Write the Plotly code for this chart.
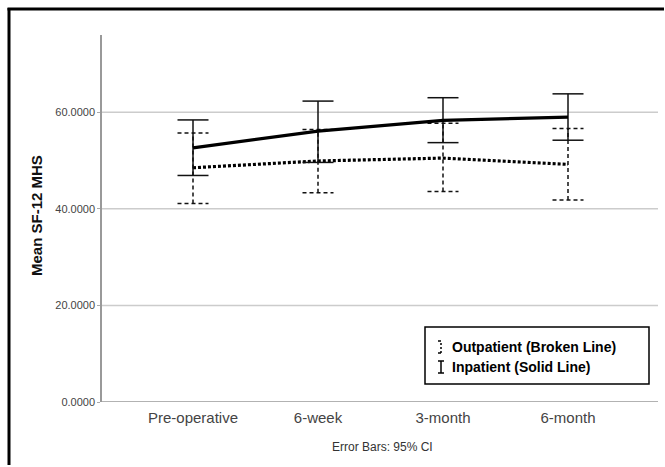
import plotly.graph_objects as go

# Time points and group summaries (mean with 95% CI)
categories = ["Pre-operative", "6-week", "3-month", "6-month"]
inpatient_mean = [52.6, 56.1, 58.3, 59.0]
inpatient_lower = [46.9, 49.6, 53.7, 54.2]
inpatient_upper = [58.4, 62.3, 63.0, 63.8]
outpatient_mean = [48.5, 49.9, 50.5, 49.2]
outpatient_lower = [41.1, 43.3, 43.6, 41.8]
outpatient_upper = [55.7, 56.4, 57.7, 56.6]
y_ticks = [0, 20, 40, 60]

W, H = 665, 467
L, R, T, B = 102, 0, 35, 65
PW, PH = W - L - R, H - T - B
AXIS_END = 658          # right end of the drawn axis frame, in pixels
UNIT = 125.0            # pixels per category step
FONT = "Liberation Sans, Arial, sans-serif"
CAP = 0.124  # half-width of error-bar caps in category units
x_idx = list(range(len(categories)))
x_lo = -0.728
x_hi = x_lo + PW / UNIT


def px(x):
    return (x - L) / PW


def py(y):
    return (H - B - y) / PH


def ci_path(lower, upper):
    xs, ys = [], []
    for i, lo, hi in zip(x_idx, lower, upper):
        xs += [i, i, None, i - CAP, i + CAP, None, i - CAP, i + CAP, None]
        ys += [lo, hi, None, hi, hi, None, lo, lo, None]
    return xs, ys


def seg(x0, y0, x1, y1, width=1.5, dash=None, color="#000"):
    line = dict(color=color, width=width)
    if dash:
        line["dash"] = dash
    return dict(type="line", xref="paper", yref="paper",
                x0=px(x0), x1=px(x1), y0=py(y0), y1=py(y1), line=line)


fig = go.Figure()

ox, oy = ci_path(outpatient_lower, outpatient_upper)
fig.add_trace(go.Scatter(x=ox, y=oy, mode="lines", hoverinfo="skip",
                         line=dict(color="#111", width=1.5, dash="4px,3px")))
fig.add_trace(go.Scatter(x=x_idx, y=outpatient_mean, mode="lines",
                         name="Outpatient (Broken Line)",
                         line=dict(color="#000", width=3.2, dash="3px,2px")))

ix, iy = ci_path(inpatient_lower, inpatient_upper)
fig.add_trace(go.Scatter(x=ix, y=iy, mode="lines", hoverinfo="skip",
                         line=dict(color="#111", width=1.5)))
fig.add_trace(go.Scatter(x=x_idx, y=inpatient_mean, mode="lines",
                         name="Inpatient (Solid Line)",
                         line=dict(color="#000", width=3.2)))

# horizontal gridlines and baseline stop at the axis frame end
grid = [dict(type="line", xref="paper", yref="y", x0=0, x1=px(AXIS_END),
             y0=v, y1=v, layer="below",
             line=dict(color="#999" if v == 0 else "#cccccc", width=1.5))
        for v in y_ticks]

shapes = grid + [
    # outer frame (left and top edges)
    seg(9, 465, 9, 8, width=3),
    seg(7.5, 9, 664, 9, width=3),
    # legend box
    dict(type="rect", xref="paper", yref="paper",
         x0=px(425), x1=px(649), y0=py(384), y1=py(327),
         line=dict(color="#000", width=1.5), fillcolor="white"),
    # legend glyph: inpatient
    seg(441, 373, 441, 361),
    seg(438, 361, 444, 361),
    seg(438, 373, 444, 373),
    # legend glyph: outpatient
    seg(441, 353, 441, 341, dash="2px,2px"),
    seg(438, 341, 441, 341),
    seg(438, 353, 441, 353),
]

annotations = [
    dict(text="<b>Outpatient (Broken Line)</b>", xref="paper", yref="paper",
         x=px(450), y=py(347), xanchor="left", yanchor="middle", showarrow=False,
         font=dict(family=FONT, size=14, color="#000")),
    dict(text="<b>Inpatient (Solid Line)</b>", xref="paper", yref="paper",
         x=px(450), y=py(367), xanchor="left", yanchor="middle", showarrow=False,
         font=dict(family=FONT, size=14, color="#000")),
    dict(text="<b>Mean SF-12 MHS</b>", xref="paper", yref="paper",
         x=px(37), y=py(216), xanchor="center", yanchor="middle", textangle=-90,
         showarrow=False, font=dict(family=FONT, size=15, color="#111")),
    dict(text="Error Bars: 95% CI", xref="paper", yref="paper",
         x=px(382), y=py(447), xanchor="center", yanchor="middle",
         showarrow=False, font=dict(family=FONT, size=12, color="#333")),
]

fig.update_layout(
    width=W, height=H,
    margin=dict(l=L, r=R, t=T, b=B, pad=0),
    paper_bgcolor="white", plot_bgcolor="white",
    showlegend=False,
    shapes=shapes, annotations=annotations,
    xaxis=dict(
        range=[x_lo, x_hi], tickmode="array", tickvals=x_idx, ticktext=categories,
        showgrid=False, zeroline=False, showline=False,
        ticks="", ticklabelstandoff=5,
        tickfont=dict(family=FONT, size=15, color="#444"),
    ),
    yaxis=dict(
        range=[0, PH / 4.83], tickmode="array", tickvals=y_ticks,
        ticktext=[f"{v:.4f}" for v in y_ticks],
        showgrid=False, zeroline=False,
        showline=True, linecolor="#999", linewidth=1.5,
        ticks="outside", ticklen=3, tickcolor="#aaa",
        tickfont=dict(family=FONT, size=11, color="#444"),
    ),
)

fig.write_html("out.html")
